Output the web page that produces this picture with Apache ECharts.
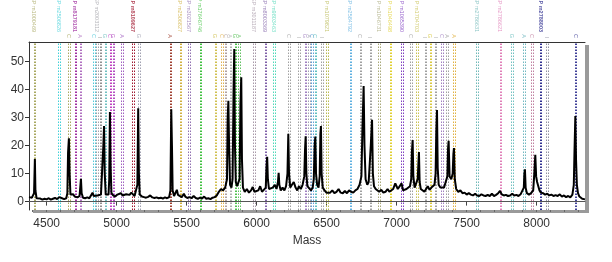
<!DOCTYPE html>
<html><head><meta charset="utf-8">
<script src="https://cdn.jsdelivr.net/npm/echarts@6/dist/echarts.min.js"></script>
<style>html,body{margin:0;padding:0;background:#fff}#c{width:612px;height:262px}</style>
</head><body><div id="c"></div>
<script>
// ---- data ----
const xTicks = [4500, 5000, 5500, 6000, 6500, 7000, 7500, 8000];
const yTicks = [0, 10, 20, 30, 40, 50];
const X_MIN = 4374, X_MAX = 8345, Y_MIN = -3, Y_MAX = 57;

const spectrumLow = [[4374,1.6],[4385,1.2],[4395,1.4],[4405,1.0],[4410,3],[4416,15.2],[4420,4],[4428,1.2],[4440,0.8],[4455,1.1],[4470,0.7],[4485,1.0],[4500,0.8],[4515,1.2],[4530,0.7],[4545,1.0],[4560,1.3],[4575,0.9],[4590,1.6],[4600,2.0],[4610,1.2],[4625,0.9],[4640,1.2],[4648,3],[4653,17.5],[4659,22.6],[4664,10],[4670,2.5],[4680,2.0],[4690,2.6],[4700,1.8],[4710,2.5],[4720,1.5],[4735,2],[4740,5],[4745,8.1],[4750,3],[4760,1.4],[4775,1.2],[4790,1.5],[4805,1.2],[4818,1.6],[4828,3.2],[4836,2.0],[4850,1.8],[4862,2.2],[4875,1.8],[4888,2.5],[4900,3],[4905,20],[4910,27],[4915,10],[4922,2.5],[4932,1.8],[4942,2.5],[4947,8],[4952,32],[4957,12],[4963,3],[4975,2.2],[4990,1.8],[5005,2.5],[5018,2.0],[5030,3.0],[5042,2.2],[5055,1.8],[5068,2.6],[5080,2.0],[5092,2.4],[5105,3.2],[5115,2.5],[5128,2.0],[5140,2.4],[5148,6],[5154,33.3],[5159,10],[5165,2.5],[5180,1.8],[5195,1.6],[5210,1.4],[5225,1.7],[5240,2.2],[5255,1.5],[5270,1.3],[5285,1.5],[5300,1.2],[5315,1.4],[5330,1.1],[5345,1.5],[5360,1.2],[5375,1.6],[5384,4],[5390,33],[5395,20],[5400,4],[5410,2],[5420,2.5],[5430,4.2],[5438,2.4],[5450,1.8],[5465,1.6],[5480,2.8],[5490,1.8],[5505,1.3],[5520,1.6],[5535,1.2],[5550,2.0],[5565,1.3],[5580,1.0],[5595,1.4],[5610,1.1],[5625,1.8],[5640,1.0],[5655,1.2],[5670,0.9],[5685,1.4],[5700,1.6]];
const spectrumMid = [[5715,2.2],[5730,3.5],[5745,4.5],[5760,4.0],[5775,5],[5788,8],[5793,30],[5798,36],[5803,20],[5810,6],[5820,5],[5828,8],[5835,40],[5840,54.5],[5845,20],[5851,7],[5860,5.5],[5870,5],[5878,8],[5884,35],[5890,44.4],[5895,15],[5902,5],[5915,3.5],[5930,4.5],[5945,3.2],[5960,4.0],[5972,5.2],[5985,3.5],[5998,3.2],[6012,4.0],[6025,5.5],[6038,3.5],[6052,4.2],[6065,5],[6070,12],[6075,16],[6080,8],[6088,4.5],[6100,4.0],[6115,5.0],[6130,6.0],[6142,4.5],[6152,7],[6157,10.3],[6162,6],[6172,4.0],[6185,5.0],[6198,4.0],[6210,5.5],[6220,10],[6226,24.2],[6231,10],[6240,5.0],[6252,6.0],[6265,7.0],[6278,5.0],[6290,4.0],[6302,5.5],[6315,4.5],[6328,6.0],[6340,9],[6345,18],[6350,23.3],[6355,10],[6362,5.5],[6375,5.0],[6388,4.0],[6400,5.0],[6408,8],[6414,20],[6419,23.2],[6424,10],[6432,6],[6442,5],[6450,9],[6455,24],[6459,27],[6464,10],[6472,5],[6485,4.0],[6498,3.2],[6512,3.8],[6525,3.2],[6540,4.0],[6555,3.0],[6570,3.5],[6585,4.5],[6600,3.2],[6615,3.0],[6630,3.8],[6645,3.0],[6660,4.0],[6675,3.5],[6690,3.2],[6705,4.0],[6720,4.5],[6735,6],[6748,9],[6755,25],[6764,41.3],[6770,20],[6778,8],[6790,6],[6800,7],[6808,7],[6815,20],[6824,29.2],[6830,10],[6838,5.5],[6850,4.5],[6862,4.0]];
const spectrumHigh = [[6875,3.5],[6890,4.2],[6905,3.2],[6920,3.5],[6935,4.5],[6948,3.5],[6960,3.8],[6975,4.5],[6990,6.5],[6998,7.2],[7008,4.5],[7020,4.2],[7035,6.5],[7045,4.0],[7058,3.5],[7070,4.5],[7082,4.0],[7095,5.5],[7104,8],[7109,18],[7114,22],[7119,9],[7128,5],[7140,5],[7150,8],[7159,17.7],[7164,7],[7172,4.5],[7185,4.0],[7198,3.5],[7210,4.5],[7222,5.5],[7235,4.2],[7248,5.0],[7260,4.5],[7270,6],[7278,10],[7283,25],[7288,32.7],[7293,12],[7300,6],[7312,5],[7325,4.5],[7338,5],[7350,7],[7362,9],[7367,19],[7371,21.7],[7378,9],[7390,8],[7400,10],[7405,17],[7409,19.1],[7415,8],[7425,4.5],[7440,3.5],[7455,4.0],[7470,3.0],[7485,3.2],[7500,2.5],[7515,3.0],[7530,2.5],[7545,2.2],[7560,2.8],[7575,2.2],[7590,2.0],[7605,2.6],[7620,2.2],[7635,2.0],[7650,2.4],[7665,2.0],[7680,2.8],[7695,2.0],[7710,2.4],[7725,3.0],[7738,3.8],[7750,2.6],[7765,2.2],[7780,2.4],[7795,2.0],[7810,2.2],[7825,2.8],[7840,2.2],[7855,2.4],[7870,2.0],[7885,2.6],[7898,3.0],[7908,5],[7912,10],[7916,11.5],[7921,5],[7930,3.0],[7945,2.5],[7960,3.0],[7975,4],[7983,10],[7990,16.7],[7996,9],[8003,7],[8008,7.5],[8013,7],[8020,4],[8030,3.2],[8045,3.0],[8060,2.5],[8075,2.8],[8090,2.2],[8105,2.5],[8120,2.0],[8135,2.3],[8150,2.0],[8165,2.6],[8180,1.8],[8195,2.2],[8210,1.6],[8225,2.0],[8240,1.5],[8255,2.5],[8265,6],[8270,18],[8276,30.6],[8281,15],[8287,6],[8295,3],[8305,1.8],[8315,1.2],[8325,1.0],[8335,0.9],[8345,0.8]];

const markerMasses = [4409,4583,4654,4702,4738,4833,4857,4881,4916,4952,4974,5036,5111,5154,5381,5452,5511,5595,5702,5750,5774,5809,5845,5869,5976,6059,6119,6226,6297,6345,6369,6393,6416,6464,6500,6666,6738,6809,6869,6952,7036,7100,7143,7202,7238,7274,7321,7357,7404,7571,7738,7821,7904,7964,8024,8071,8274];
const markerLabels = ["EP m1000469","EP m2506826","C","EP m8179181","A","C","EP m2003112","I","G","C","G","A","EP m8109627","G","A","EP m2506827","EP m3021567","P m17646746","G","C","C","A","G","A","EP m3011187","EP m8003369","EP m9803463","C","I","G","A","C","C","I","P m1079821","EP m2584792","C","I","P m1046731","P m1046498","P m1065390","C","P m1704703","I","G","I","C","A","A","EP m2786631","EP m2786621","G","A","C","EP m2788003","I","C"];
const markerColors = ["#a8a860","#40d0d8","#a8a860","#a030a0","#b070c0","#50c8d8","#a0a0a8","#909090","#70c0c0","#c040c0","#b050c0","#a060c0","#a01830","#a0a0b0","#a04030","#d0b040","#9070b0","#40c040","#d0c050","#e0b050","#b0a0a0","#b0b0b0","#50c050","#60c060","#a898a8","#8060a8","#50d8b8","#a0a0a0","#a0a0a0","#a080c0","#a0a0b0","#60a0d8","#60c0c0","#a0a0a0","#b8b850","#60b0e0","#a0a0a0","#a0a0a0","#a8a878","#e0d030","#8040c0","#a0a0a0","#c8c050","#a0a0a0","#d8c840","#a0a0a0","#a080c0","#a0a0a0","#e0b040","#70b8b8","#e080b8","#70c0c0","#70b8c0","#c080a0","#303090","#9090a0","#404098"];

// ---- chart ----
const spectrum = spectrumLow.concat(spectrumMid, spectrumHigh);
const minorTicks = [];
for (let v = 4400; v <= 8300; v += 100) minorTicks.push(v);

const lineData = [];
markerMasses.forEach((m, i) => {
  lineData.push({ xAxis: m, lineStyle: { color: markerColors[i] } });
  lineData.push({ xAxis: m + 12, lineStyle: { color: markerColors[i] } });
});

const boldColors = ['#303090', '#a01830', '#a030a0'];
const labelData = markerMasses.map((m, i) => ({
  value: [m, Y_MAX],
  label: {
    formatter: markerLabels[i],
    color: markerColors[i],
    distance: markerLabels[i].length > 1 ? 10 : 4,
    fontWeight: markerLabels[i].length > 1 && boldColors.includes(markerColors[i]) ? 'bold' : 'normal'
  }
}));

const chart = echarts.init(document.getElementById('c'), null, { renderer: 'canvas' });
const font = 'Liberation Sans, Arial, sans-serif';
chart.setOption({
  animation: false,
  backgroundColor: '#fff',
  textStyle: { fontFamily: font },
  grid: {
    left: 29, right: 27, top: 42, bottom: 52,
    containLabel: false, outerBoundsMode: 'none',
    show: true, backgroundColor: '#fff', borderWidth: 0,
    shadowColor: '#9a9a9a', shadowOffsetX: 4, shadowOffsetY: 3, shadowBlur: 0
  },
  xAxis: [{
    type: 'value', position: 'bottom', min: X_MIN, max: X_MAX,
    name: 'Mass', nameLocation: 'middle', nameGap: 24,
    nameTextStyle: { fontSize: 12, color: '#333', fontFamily: font },
    axisLine: { show: true, lineStyle: { color: '#555', width: 1 } },
    axisTick: { show: true, length: 4, customValues: xTicks, lineStyle: { color: '#444' } },
    axisLabel: { customValues: xTicks, fontSize: 12, color: '#333', margin: 8, fontFamily: font, formatter: v => String(v) },
    splitLine: { show: false }
  }, {
    type: 'value', position: 'bottom', min: X_MIN, max: X_MAX,
    axisLine: { show: false },
    axisTick: { show: true, length: 2, customValues: minorTicks, lineStyle: { color: '#666' } },
    axisLabel: { show: false },
    splitLine: { show: false }
  }, {
    type: 'value', position: 'top', min: X_MIN, max: X_MAX,
    axisLine: { show: true, lineStyle: { color: '#333', width: 1 } },
    axisTick: { show: false }, axisLabel: { show: false }, splitLine: { show: false }
  }],
  yAxis: {
    type: 'value', min: Y_MIN, max: Y_MAX,
    name: 'Intensity', nameLocation: 'middle', nameGap: 19,
    nameTextStyle: { fontSize: 12, color: '#333', fontFamily: font },
    axisLine: { show: true, lineStyle: { color: '#333' } },
    axisTick: { show: true, length: 4, customValues: yTicks, lineStyle: { color: '#333' } },
    axisLabel: { customValues: yTicks, fontSize: 12, color: '#333', margin: 5, fontFamily: font },
    splitLine: { show: false }
  },
  series: [{
    type: 'scatter', z: 2, clip: false, symbolSize: 0, silent: true,
    data: labelData,
    label: {
      show: true, position: 'top', rotate: -90, align: 'right', verticalAlign: 'middle',
      fontSize: 5.5, fontFamily: font
    },
    markLine: {
      silent: true, symbol: ['none', 'none'], animation: false, z: 1,
      label: { show: false },
      lineStyle: { type: [1.5, 1.5], width: 1 },
      data: lineData
    }
  }, {
    type: 'line', z: 3, data: spectrum, showSymbol: false, symbol: 'none',
    lineStyle: { color: '#000', width: 2 }, silent: true
  }]
});
</script></body></html>
